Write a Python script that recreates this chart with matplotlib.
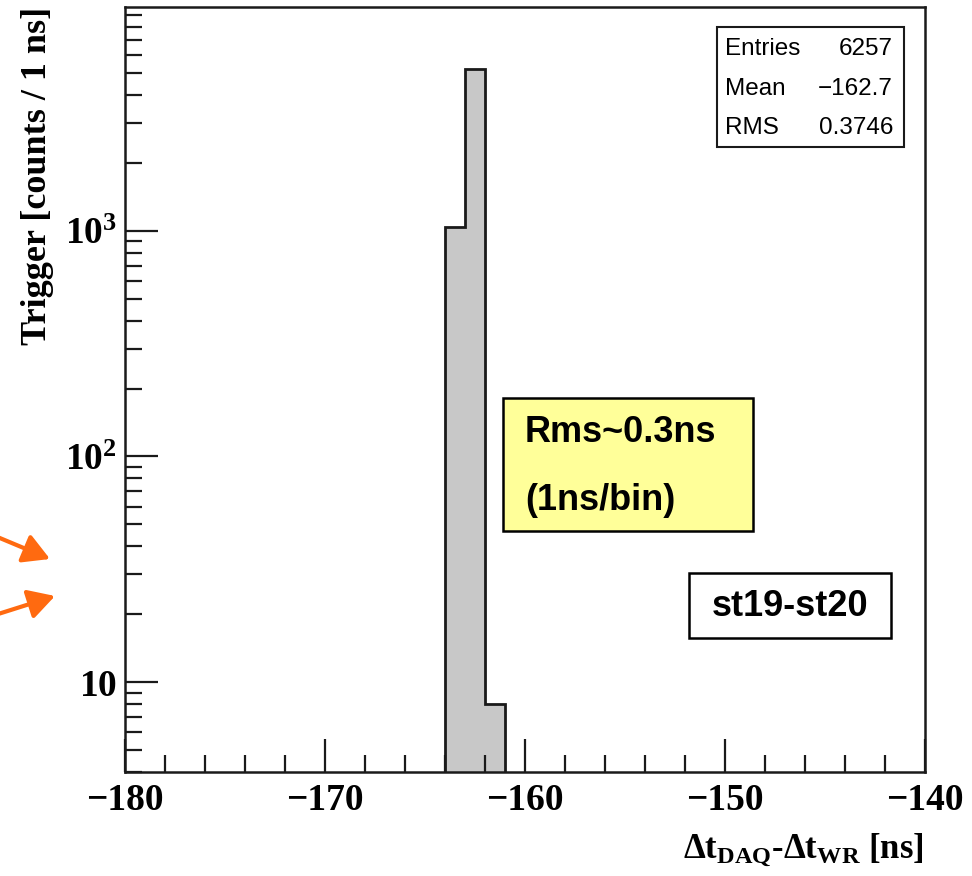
import numpy as np
import matplotlib
matplotlib.use("Agg")
import matplotlib.pyplot as plt
from matplotlib.ticker import FuncFormatter, LogLocator, NullFormatter, MultipleLocator
from matplotlib.patches import FancyArrowPatch, Rectangle

# Histogram contents (1 ns bins)
bin_edges = [-164, -163, -162, -161]
bin_counts = [1040, 5209, 8]

stats_labels = ["Entries", "Mean", "RMS"]
stats_values = ["6257", "\u2212162.7", "0.3746"]

note_lines = ["Rms~0.3ns", "(1ns/bin)"]
pair_label = "st19-st20"

x_range = (-180, -140)
y_range = (4, 9800)

plt.rcParams["mathtext.fontset"] = "custom"
plt.rcParams["mathtext.rm"] = "Liberation Serif:bold"
plt.rcParams["mathtext.bf"] = "Liberation Serif:bold"
plt.rcParams["mathtext.it"] = "Liberation Serif:bold"

W, H = 972, 876
fig = plt.figure(figsize=(W / 100, H / 100), dpi=100)
fig.patch.set_facecolor("white")


def fx(px):
    return px / W


def fy(py):
    return 1 - py / H


left, right, top, bottom = 125, 925, 7, 772
ax = fig.add_axes([fx(left), fy(bottom), fx(right - left), (bottom - top) / H])

ax.stairs(bin_counts, bin_edges, fill=True, facecolor="#c8c8c8", edgecolor="none", baseline=y_range[0])
ax.stairs(bin_counts, bin_edges, fill=False, edgecolor="#1a1a1a", linewidth=2.0, baseline=y_range[0])

ax.set_yscale("log")
ax.set_xlim(*x_range)
ax.set_ylim(*y_range)

for s in ax.spines.values():
    s.set_linewidth(1.8)
    s.set_color("#1a1a1a")

# ticks inside, bottom and left only
ax.xaxis.set_major_locator(MultipleLocator(10))
ax.xaxis.set_minor_locator(MultipleLocator(2))
ax.yaxis.set_major_locator(LogLocator(base=10, numticks=10))
ax.yaxis.set_minor_locator(LogLocator(base=10, subs=np.arange(2, 10), numticks=20))
ax.yaxis.set_minor_formatter(NullFormatter())


def ylab(v, pos):
    e = int(round(np.log10(v)))
    if e == 1:
        return r"$10$"
    return r"$10^{%d}$" % e


ax.yaxis.set_major_formatter(FuncFormatter(ylab))
ax.xaxis.set_major_formatter(FuncFormatter(lambda v, p: "\u2212%d" % abs(v) if v < 0 else "%d" % v))

ax.tick_params(axis="both", which="major", direction="in", length=24, width=1.6, color="#1a1a1a",
               top=False, right=False, labelsize=27, pad=8)
ax.tick_params(axis="both", which="minor", direction="in", length=12, width=1.6, color="#1a1a1a",
               top=False, right=False)
for lab in ax.get_xticklabels() + ax.get_yticklabels():
    lab.set_fontfamily("Liberation Serif")
    lab.set_fontweight("bold")
ax.tick_params(axis="y", which="major", pad=6)

# axis titles
fig.text(fx(37), fy(7), "Trigger [counts / 1 ns]", rotation=90, ha="center", va="top",
         fontsize=26, fontfamily="Liberation Serif", fontweight="bold")
xtitle = "\u0394t$_{\\mathrm{DAQ}}$-\u0394t$_{\\mathrm{WR}}$ [ns]"
fig.text(fx(924), fy(850), xtitle, ha="right", va="center", fontsize=25,
         fontfamily="Liberation Serif", fontweight="bold")

# statistics box
fig.patches.append(Rectangle((fx(717), fy(147)), fx(904 - 717), (147 - 27) / H, transform=fig.transFigure,
                             facecolor="white", edgecolor="#1a1a1a", linewidth=1.5))
row_y = [49, 89, 128]
for lab, val, ry in zip(stats_labels, stats_values, row_y):
    fig.text(fx(725), fy(ry), lab, ha="left", va="center", fontsize=17.5, fontfamily="Liberation Sans")
    fig.text(fx(893), fy(ry), val, ha="right", va="center", fontsize=17.5, fontfamily="Liberation Sans")

# annotation boxes
fig.patches.append(Rectangle((fx(503), fy(531)), fx(753 - 503), (531 - 398) / H, transform=fig.transFigure,
                             facecolor="#ffff99", edgecolor="#000000", linewidth=1.8))
fig.text(fx(525), fy(432), note_lines[0], ha="left", va="center", fontsize=26,
         fontfamily="Liberation Sans", fontweight="bold")
fig.text(fx(525), fy(500), note_lines[1], ha="left", va="center", fontsize=26,
         fontfamily="Liberation Sans", fontweight="bold")

fig.patches.append(Rectangle((fx(689), fy(638)), fx(891 - 689), (638 - 573) / H, transform=fig.transFigure,
                             facecolor="white", edgecolor="#000000", linewidth=1.8))
fig.text(fx(790), fy(607), pair_label, ha="center", va="center", fontsize=26,
         fontfamily="Liberation Sans", fontweight="bold")

# orange pointer arrows at the left margin
for (x0, y0), (x1, y1) in [((-5, 536), (50, 559)), ((-5, 615), (55, 596))]:
    arr = FancyArrowPatch((fx(x0), fy(y0)), (fx(x1), fy(y1)), transform=fig.transFigure,
                          arrowstyle="-|>,head_length=0.8,head_width=0.45", mutation_scale=20,
                          color="#ff6a10", linewidth=3, shrinkA=0, shrinkB=0)
    fig.patches.append(arr)

fig.savefig("out.png", dpi=100, facecolor="white")
